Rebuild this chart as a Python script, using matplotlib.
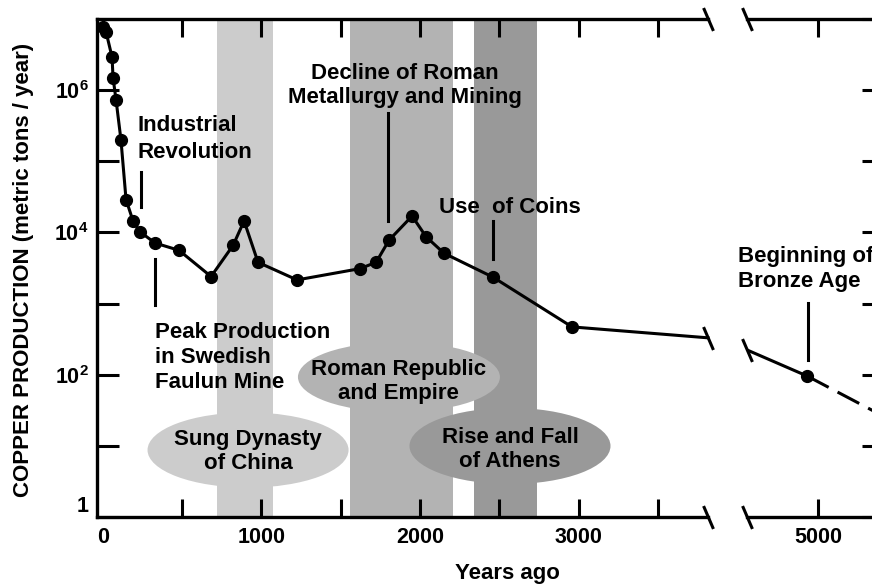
import matplotlib.pyplot as plt
import matplotlib.transforms as mtransforms
from matplotlib.patches import Ellipse
from matplotlib.ticker import NullLocator

plt.rcParams['font.family'] = 'Liberation Sans'
plt.rcParams['font.weight'] = 'bold'
plt.rcParams['mathtext.fontset'] = 'custom'
plt.rcParams['mathtext.rm'] = 'Liberation Sans:bold'
plt.rcParams['mathtext.it'] = 'Liberation Sans:bold'
plt.rcParams['mathtext.bf'] = 'Liberation Sans:bold'
plt.rcParams['mathtext.default'] = 'rm'

# copper production (metric tons / year) against years ago
years = [2, 21, 59, 65, 84, 115, 147, 191, 235, 330, 481, 683, 822, 891, 979,
         1225, 1622, 1723, 1805, 1950, 2038, 2151, 2460, 2958]
tons = [7.7e6, 6.6e6, 2.9e6, 1.5e6, 7.3e5, 2.0e5, 2.9e4, 1.45e4, 1.02e4, 7.1e3,
        5.6e3, 2.4e3, 6.6e3, 1.45e4, 3.8e3, 2.15e3, 3.1e3, 3.8e3, 7.8e3, 1.7e4,
        8.7e3, 5.1e3, 2.35e3, 470]

# where the line runs into the axis break on each side
break_left = (3815, 330)
break_right = (4553, 223)

# beginning of the bronze age, and the dashed guess beyond it
bronze_year, bronze_tons = 4931, 96
dash_end = (5400, 27)

# historical periods: shaded bands
bands = [(720, 1073, '#cccccc'), (1559, 2208, '#b3b3b3'), (2340, 2737, '#999999')]

# ellipse labels: centre year, centre (axes fraction), width (years), height, colour, text y
periods = [
    ('Sung Dynasty\nof China', 916, 0.1345, 1267, 0.151, '#cccccc', 0.131),
    ('Roman Republic\nand Empire', 1867, 0.281, 1273, 0.141, '#b3b3b3', 0.272),
    ('Rise and Fall\nof Athens', 2567, 0.1426, 1267, 0.153, '#999999', 0.136),
]

# event labels: text, x, last baseline, alignment, line spacing,
# pointer x, pointer top, pointer bottom
events = [
    ('Industrial\nRevolution', 222, 1.11e5, 'left', 1.36, 241, 7.07e4, 2.28e4),
    ('Peak Production\nin Swedish\nFaulun Mine', 330, 65, 'left', 1.25, 330, 4.2e3, 955),
    ('Decline of Roman\nMetallurgy and Mining', 1905, 6.6e5, 'center', 1.2, 1798, 4.8e5, 1.45e4),
    ('Use  of Coins', 2120, 1.88e4, 'left', 1.2, 2460, 1.45e4, 4.2e3),
]
bronze_label = ('Beginning of\nBronze Age', 4496, 1.71e3, 4937, 1.02e3, 161)

fig = plt.figure(figsize=(8.72, 5.84), dpi=100)
ax1 = fig.add_axes([97 / 872, 67 / 584, 611 / 872, 498 / 584])
ax2 = fig.add_axes([747 / 872, 67 / 584, 137 / 872, 498 / 584])

for ax in (ax1, ax2):
    ax.set_yscale('log')
    ax.set_ylim(1, 1e7)
    ax.set_yticks([10 ** k for k in range(8)])
    ax.yaxis.set_minor_locator(NullLocator())
    for s in ax.spines.values():
        s.set_linewidth(2.4)
    ax.tick_params(which='both', direction='in', width=2.2, top=True,
                   labelsize=15.5)
    ax.tick_params(axis='y', length=15.8, pad=6)
    ax.tick_params(axis='x', which='both', length=13, pad=7.5)

ax1.set_xlim(-36, 3815)
ax2.set_xlim(4553, 5416)
ax1.spines['right'].set_visible(False)
ax2.spines['left'].set_visible(False)

ax1.set_xticks([0, 1000, 2000, 3000])
ax1.set_xticks([500, 1500, 2500, 3500], minor=True)
ax1.xaxis.get_major_ticks()[0].tick1line.set_visible(False)
ax1.xaxis.get_major_ticks()[0].tick2line.set_visible(False)
ax2.set_xticks([5000])

ylabels = ax1.set_yticklabels(['1', '', '$10^2$', '', '$10^4$', '', '$10^6$', ''])
ylabels[0].set_verticalalignment('bottom')
ax1.tick_params(axis='y', right=False)
ax2.tick_params(axis='y', left=False, right=True, labelleft=False)

for x0, x1, c in bands:
    ax1.axvspan(x0, x1, color=c, lw=0, zorder=0)

trans = mtransforms.blended_transform_factory(ax1.transData, ax1.transAxes)
for txt, xc, yc, w, h, c, ty in periods:
    ax1.add_patch(Ellipse((xc, yc), w, h, transform=trans, color=c, lw=0,
                          zorder=1, clip_on=False))
    ax1.text(xc, ty, txt, transform=trans, ha='center', va='center',
             multialignment='center', fontsize=16, linespacing=1.2, zorder=2)

# the production curve
ax1.plot(years + [break_left[0]], tons + [break_left[1]], color='k', lw=2.2,
         zorder=3, clip_on=False)
ax1.plot(years, tons, 'o', color='k', ms=8.5, zorder=4, clip_on=False)
ax2.plot([break_right[0], bronze_year], [break_right[1], bronze_tons],
         color='k', lw=2.2, zorder=3)
ax2.plot([bronze_year, dash_end[0]], [bronze_tons, dash_end[1]], color='k',
         lw=2.2, ls=(0, (8, 3.3)), zorder=3)
ax2.plot(bronze_year, bronze_tons, 'o', color='k', ms=8.5, zorder=4)

for txt, x, y, ha, lsp, px, p0, p1 in events:
    ax1.text(x, y, txt, ha=ha, va='baseline', multialignment=ha, fontsize=16,
             linespacing=lsp, zorder=5)
    ax1.plot([px, px], [p0, p1], color='k', lw=2.2, zorder=5)

txt, x, y, px, p0, p1 = bronze_label
ax2.text(x, y, txt, ha='left', va='baseline', fontsize=16, linespacing=1.25,
         zorder=5, clip_on=False)
ax2.plot([px, px], [p0, p1], color='k', lw=2.2, zorder=5)

# break marks on the axis and on the line
brk = dict(marker=[(-0.43, 1), (0.43, -1)], markersize=16.5, linestyle='none',
           color='k', mec='k', mew=2.2, clip_on=False, zorder=6)
ax1.plot([1, 1], [0, 1], transform=ax1.transAxes, **brk)
ax2.plot([0, 0], [0, 1], transform=ax2.transAxes, **brk)
ax1.plot(*break_left, **brk)
ax2.plot(*break_right, **brk)

fig.text(507 / 872, 1 - 574 / 584, 'Years ago', ha='center', va='center',
         fontsize=16)
fig.text(24 / 872, 1 - 270 / 584, 'COPPER PRODUCTION (metric tons / year)',
         rotation=90, ha='center', va='center', fontsize=16)

fig.savefig('out.png', dpi=100)
